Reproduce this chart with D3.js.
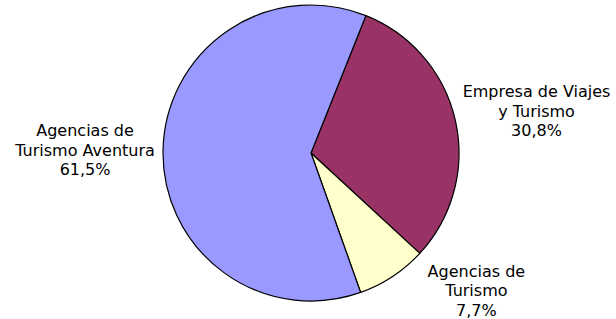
<!DOCTYPE html>
<html>
<head>
<meta charset="utf-8">
<script src="https://cdn.jsdelivr.net/npm/d3@7"></script>
<style>
  body { margin: 0; background: #fff; }
  text { font-family: "DejaVu Sans", Verdana, sans-serif; }
</style>
</head>
<body>
<div id="chart"></div>
<script>
// data, in slice order (clockwise)
const categories = ["Empresa de Viajes\ny Turismo", "Agencias de\nTurismo", "Agencias de\nTurismo Aventura"]
const shares = [30.8, 7.7, 61.5]
const colors = ["#993366", "#FFFFCC", "#9999FF"]

const width = 616
const height = 319
const cx = 311, cy = 153
const radius = 148
const startDeg = 21.8

// label placement tweaks (Excel pushes the labels around a bit)
const labelNudge = [[9, 13], [43, -42], [-4, 7]]

const svg = d3.select("#chart")
    .append("svg")
    .attr("width", width)
    .attr("height", height)

const pie = d3.pie()
    .sort(null)
    .value(d => d)
    .startAngle(startDeg * Math.PI / 180)
    .endAngle(startDeg * Math.PI / 180 + 2 * Math.PI)

const arc = d3.arc().innerRadius(0).outerRadius(radius)
const labelArc = d3.arc().innerRadius(222).outerRadius(222)

const arcs = pie(shares)

const g = svg.append("g")
    .attr("transform", `translate(${cx},${cy})`)

g.selectAll("path")
    .data(arcs)
    .join("path")
    .attr("d", arc)
    .attr("fill", (d, i) => colors[i])
    .attr("stroke", "#000")
    .attr("stroke-width", 1.2)
    .attr("stroke-linejoin", "round")

const fmt = v => d3.format(".1f")(v).replace(".", ",") + "%"

const lineH = 19.5

const labels = g.selectAll("text.lbl")
    .data(arcs)
    .join("text")
    .attr("class", "lbl")
    .attr("text-anchor", "middle")
    .attr("font-size", 16)
    .attr("fill", "#000")
    .attr("transform", (d, i) => {
        const [x, y] = labelArc.centroid(d)
        return `translate(${x + labelNudge[i][0]},${y + labelNudge[i][1]})`
    })

labels.each(function(d, i) {
    const lines = categories[i].split("\n").concat([fmt(d.data)])
    d3.select(this).selectAll("tspan")
        .data(lines)
        .join("tspan")
        .attr("x", 0)
        .attr("y", (t, j) => (j - 1) * lineH)
        .text(t => t)
})
</script>
</body>
</html>
